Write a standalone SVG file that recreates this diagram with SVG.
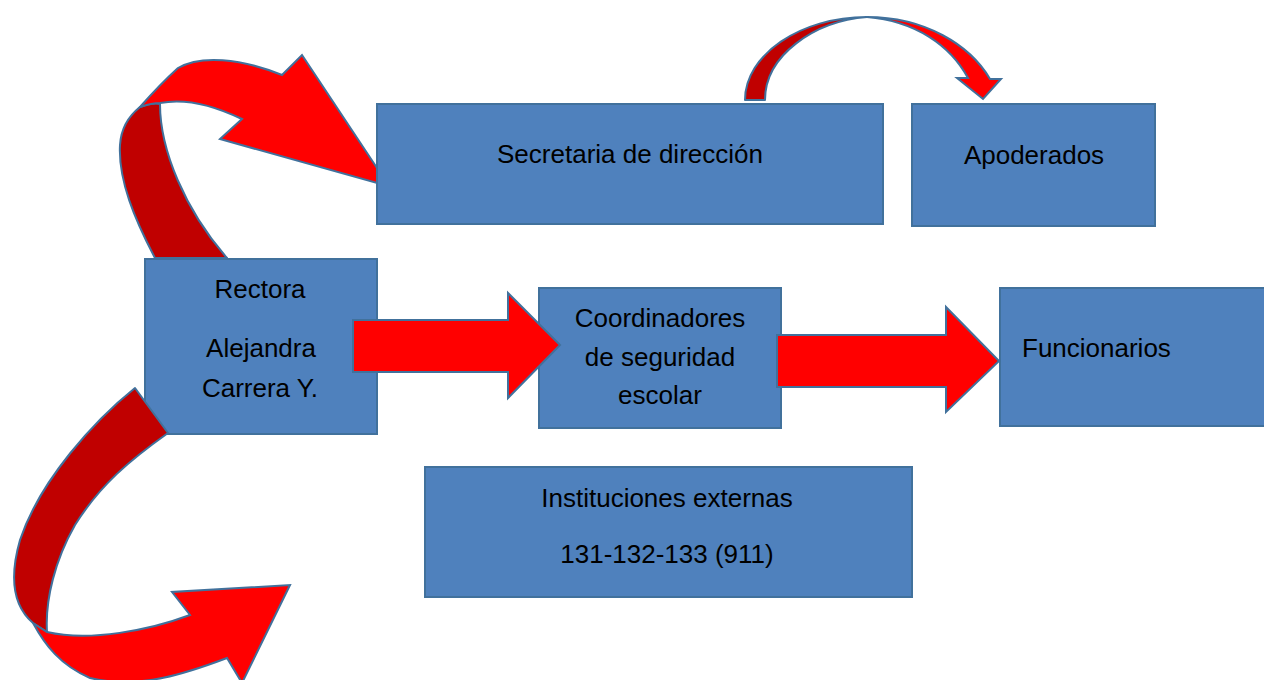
<svg xmlns="http://www.w3.org/2000/svg" width="1264" height="680" viewBox="0 0 1264 680">
<style>
.box{fill:#4F81BD;stroke:#41719C;stroke-width:2}
.t{font-family:"Liberation Sans",Arial,sans-serif;font-size:26px;fill:#000}
.c{text-anchor:middle}
.dk{fill:#C00000;stroke:#41719C;stroke-width:2;stroke-linejoin:round}
.br{fill:#FF0000;stroke:#41719C;stroke-width:2;stroke-linejoin:miter}
</style>
<rect width="1264" height="680" fill="#fff"/>
<g id="arrow-rectora-secretaria-back">
<path class="dk" d="M155,258 C135,220 118,180 120,145 C121,128 130,115 140,107 C148,104 155,103 160,104 C160,150 185,210 227,258 Z"/>
<path class="br" d="M140,107 C155,90 168,77 178,68 C200,55 240,58 282,75 L302,55 L377,168 L377,183 L220,139 L242,119 C215,106 185,98 160,103 C152,103 146,105 140,107 Z"/>
</g>
<g id="n-secretaria"><rect class="box" x="377" y="104" width="506" height="120"/><text class="t c" x="630" y="163">Secretaria de dirección</text></g>
<g id="n-apoderados"><rect class="box" x="912" y="104" width="243" height="122"/><text class="t c" x="1034" y="164">Apoderados</text></g>
<g id="n-rectora"><rect class="box" x="145" y="259" width="232" height="175"/><text class="t c" x="260" y="298">Rectora</text><text class="t c" x="261" y="357">Alejandra</text><text class="t c" x="260" y="397">Carrera Y.</text></g>
<g id="n-coordinadores"><rect class="box" x="539" y="288" width="242" height="140"/><text class="t c" x="660" y="327">Coordinadores</text><text class="t c" x="660" y="366">de seguridad</text><text class="t c" x="660" y="404">escolar</text></g>
<g id="n-funcionarios"><rect class="box" x="1000" y="288" width="270" height="138"/><text class="t" x="1022" y="357">Funcionarios</text></g>
<g id="n-instituciones"><rect class="box" x="425" y="467" width="487" height="130"/><text class="t c" x="667" y="507">Instituciones externas</text><text class="t c" x="667" y="563">131-132-133 (911)</text></g>
<g id="connectors">
<path class="br" d="M353,320 L508,320 L508,293 L560,345 L508,398 L508,372 L353,372 Z"/>
<path class="br" d="M777,335 L946,335 L946,307 L999,361 L946,412 L946,387 L777,387 Z"/>
<path class="dk" d="M745,100 C745,55 800,17 867,17 C815,21 765,55 765,100 Z"/>
<path class="br" d="M867,17 C925,17 970,45 990,79 L1001,79 L983,99 L957,78 L968,78 C950,45 915,21 867,17 Z"/>
<path class="dk" d="M135,388 C95,420 40,480 20,540 C10,575 12,605 33,623 L47,632 C45,600 55,560 75,525 C100,485 130,460 168,433 Z"/>
<path class="br" d="M33,623 C45,645 60,665 90,678 C140,690 190,672 227,658 L242,683 L290,585 L172,592 L190,615 C150,630 90,642 47,632 Z"/>
</g>
</svg>
